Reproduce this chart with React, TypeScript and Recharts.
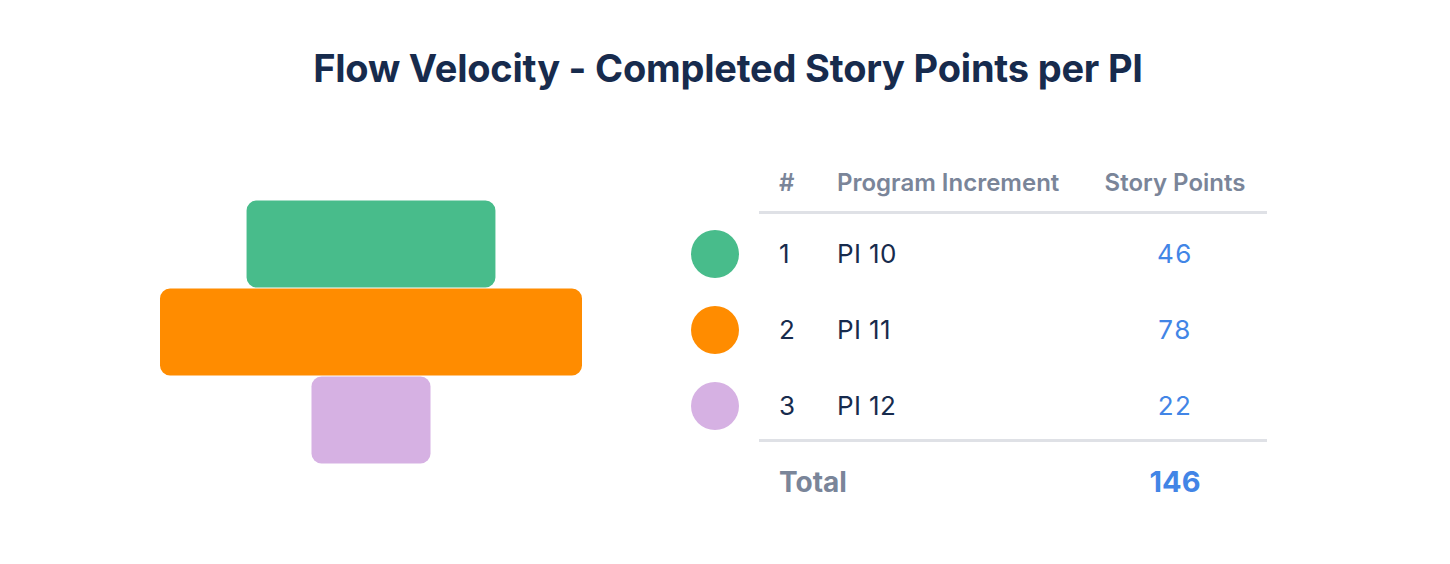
import React from "react";
import { BarChart, Bar, XAxis, YAxis, Cell } from "recharts";

const increments = ["PI 10", "PI 11", "PI 12"];
const storyPoints = [46, 78, 22];
const colors = ["#48BC8B", "#FF8C00", "#D6B1E3"];
const headers = ["#", "Program Increment", "Story Points"];

const FONT = "Inter, 'Noto Sans', sans-serif";

const data = increments.map((name, i) => ({ name, points: storyPoints[i] }));
const total = storyPoints.reduce((a, b) => a + b, 0);
const half = Math.max(...storyPoints) / 2;

const ROW_Y = [254, 330, 406];

const headerStyle: React.CSSProperties = {
  position: "absolute",
  top: 168,
  lineHeight: "30px",
  fontSize: 24,
  fontWeight: 600,
  color: "#7A8599",
};

const cellStyle: React.CSSProperties = {
  position: "absolute",
  lineHeight: "32px",
  fontSize: 26,
  letterSpacing: 0.4,
  color: "#172B4D",
};

export default function App() {
  return (
    <div
      style={{
        position: "absolute",
        left: 0,
        top: 0,
        width: 1450,
        height: 564,
        background: "#fff",
        fontFamily: FONT,
        overflow: "hidden",
      }}
    >
      {/* title */}
      <div
        style={{
          position: "absolute",
          left: 0,
          width: 1456,
          top: 44,
          textAlign: "center",
          fontSize: 38,
          fontWeight: 700,
          color: "#172B4D",
          lineHeight: "48px",
          letterSpacing: -0.2,
        }}
      >
        Flow Velocity - Completed Story Points per PI
      </div>

      {/* centered bars */}
      <div style={{ position: "absolute", left: 160, top: 200 }}>
        <BarChart
          width={422}
          height={264}
          data={data}
          layout="vertical"
          margin={{ top: 0, right: 0, bottom: 0, left: 0 }}
          barCategoryGap={0.5}
        >
          <XAxis type="number" hide domain={[-half, half]} />
          <YAxis type="category" dataKey="name" hide />
          <Bar
            dataKey={(d: any) => [-d.points / 2, d.points / 2]}
            radius={10}
            isAnimationActive={false}
          >
            {data.map((d, i) => (
              <Cell key={d.name} fill={colors[i]} />
            ))}
          </Bar>
        </BarChart>
      </div>

      {/* table */}
      <div style={{ ...headerStyle, left: 779 }}>{headers[0]}</div>
      <div style={{ ...headerStyle, left: 837 }}>{headers[1]}</div>
      <div style={{ ...headerStyle, left: 1075, width: 200, textAlign: "center" }}>{headers[2]}</div>
      <div style={{ position: "absolute", left: 759, width: 508, top: 211, height: 3, background: "#DFE1E6" }} />

      {data.map((d, i) => (
        <React.Fragment key={d.name}>
          <div
            style={{
              position: "absolute",
              left: 691,
              top: ROW_Y[i] - 24,
              width: 48,
              height: 48,
              borderRadius: 24,
              background: colors[i],
            }}
          />
          <div style={{ ...cellStyle, left: 779, top: ROW_Y[i] - 16 }}>{i + 1}</div>
          <div style={{ ...cellStyle, left: 837, top: ROW_Y[i] - 16 }}>{d.name}</div>
          <div
            style={{
              ...cellStyle,
              left: 1075,
              width: 200,
              textAlign: "center",
              top: ROW_Y[i] - 16,
              letterSpacing: 1.5,
              color: "#4285E6",
            }}
          >
            {d.points}
          </div>
        </React.Fragment>
      ))}

      <div style={{ position: "absolute", left: 759, width: 508, top: 439, height: 3, background: "#DFE1E6" }} />
      <div style={{ position: "absolute", left: 779, top: 466, lineHeight: "32px", fontSize: 28, fontWeight: 700, color: "#7A8599" }}>
        Total
      </div>
      <div
        style={{
          position: "absolute",
          left: 1075,
          width: 200,
          textAlign: "center",
          top: 466,
          lineHeight: "32px",
          fontSize: 29,
          fontWeight: 700,
          color: "#4285E6",
        }}
      >
        {total}
      </div>
    </div>
  );
}
